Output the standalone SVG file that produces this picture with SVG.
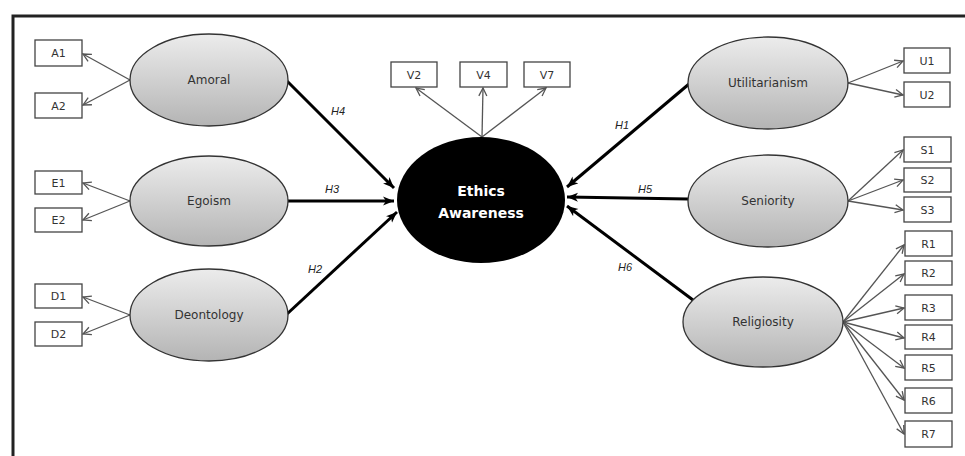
<svg xmlns="http://www.w3.org/2000/svg" width="965" height="456" viewBox="0 0 965 456">
<style>
.box{fill:#fff;stroke:#444;stroke-width:1.3}
.bt{font-family:"DejaVu Sans",sans-serif;font-size:11px;fill:#333;text-anchor:middle}
.lat{fill:url(#g);stroke:#333;stroke-width:1.3}
.lt{font-family:"DejaVu Sans",sans-serif;font-size:12px;fill:#333;text-anchor:middle}
.ind{stroke:#555;stroke-width:1.3;fill:none;marker-end:url(#oa)}
.hyp{stroke:#000;stroke-width:3;fill:none;marker-end:url(#fa)}
.hl{font-family:"Liberation Sans",Arial,sans-serif;font-size:11px;font-style:italic;fill:#222;text-anchor:middle}
</style>
<defs>
<linearGradient id="g" x1="0" y1="0" x2="0" y2="1">
<stop offset="0" stop-color="#ececec"/>
<stop offset="1" stop-color="#b4b4b4"/>
</linearGradient>
<marker id="oa" markerWidth="10" markerHeight="10" refX="9" refY="5" orient="auto" markerUnits="userSpaceOnUse">
<path d="M1,1 L9,5 L1,9" fill="none" stroke="#555" stroke-width="1.3"/>
</marker>
<marker id="fa" markerWidth="12" markerHeight="10" refX="11" refY="5" orient="auto" markerUnits="userSpaceOnUse">
<path d="M0,0.5 L11,5 L0,9.5 L3,5 Z" fill="#000"/>
</marker>
</defs>
<rect width="965" height="456" fill="#fff"/>
<path d="M13,456 V16 H965" fill="none" stroke="#222" stroke-width="3"/>

<g id="connectors">
<line class="ind" x1="130" y1="80" x2="83" y2="54"/>
<line class="ind" x1="130" y1="80" x2="83" y2="105"/>
<line class="ind" x1="130" y1="201" x2="83" y2="183"/>
<line class="ind" x1="130" y1="201" x2="83" y2="220"/>
<line class="ind" x1="130" y1="315" x2="83" y2="297"/>
<line class="ind" x1="130" y1="315" x2="83" y2="334"/>
<line class="ind" x1="482" y1="137" x2="416" y2="88"/>
<line class="ind" x1="482" y1="137" x2="483" y2="88"/>
<line class="ind" x1="482" y1="137" x2="546" y2="88"/>
<line class="ind" x1="848" y1="83" x2="903" y2="61"/>
<line class="ind" x1="848" y1="83" x2="903" y2="95"/>
<line class="ind" x1="848" y1="201" x2="903" y2="150"/>
<line class="ind" x1="848" y1="201" x2="903" y2="180"/>
<line class="ind" x1="848" y1="201" x2="903" y2="210"/>
<line class="ind" x1="843" y1="322" x2="904" y2="245"/>
<line class="ind" x1="843" y1="322" x2="904" y2="274"/>
<line class="ind" x1="843" y1="322" x2="904" y2="308"/>
<line class="ind" x1="843" y1="322" x2="904" y2="338"/>
<line class="ind" x1="843" y1="322" x2="904" y2="368"/>
<line class="ind" x1="843" y1="322" x2="904" y2="400"/>
<line class="ind" x1="843" y1="322" x2="904" y2="434"/>
<line class="hyp" x1="287" y1="81" x2="394" y2="188"/>
<line class="hyp" x1="288" y1="201" x2="394" y2="201"/>
<line class="hyp" x1="287" y1="314" x2="397" y2="212"/>
<line class="hyp" x1="689" y1="84" x2="567" y2="187"/>
<line class="hyp" x1="688" y1="199" x2="567" y2="197"/>
<line class="hyp" x1="693" y1="300" x2="567" y2="206"/>
<text class="hl" x="338" y="115">H4</text>
<text class="hl" x="332" y="193">H3</text>
<text class="hl" x="315" y="273">H2</text>
<text class="hl" x="622" y="129">H1</text>
<text class="hl" x="645" y="193">H5</text>
<text class="hl" x="625" y="271">H6</text>
</g>

<g id="A1"><rect class="box" x="35" y="40" width="47" height="26"/><text class="bt" x="58.5" y="57">A1</text></g>
<g id="A2"><rect class="box" x="35" y="93" width="47" height="25"/><text class="bt" x="58.5" y="109.5">A2</text></g>
<g id="E1"><rect class="box" x="35" y="171" width="47" height="23"/><text class="bt" x="58.5" y="186.5">E1</text></g>
<g id="E2"><rect class="box" x="35" y="208" width="47" height="24"/><text class="bt" x="58.5" y="224">E2</text></g>
<g id="D1"><rect class="box" x="35" y="284" width="47" height="24"/><text class="bt" x="58.5" y="300">D1</text></g>
<g id="D2"><rect class="box" x="35" y="322" width="47" height="24"/><text class="bt" x="58.5" y="338">D2</text></g>

<g id="Amoral"><ellipse class="lat" cx="209" cy="80" rx="79" ry="46"/><text class="lt" x="209" y="84">Amoral</text></g>
<g id="Egoism"><ellipse class="lat" cx="209" cy="201" rx="79" ry="45"/><text class="lt" x="209" y="205">Egoism</text></g>
<g id="Deontology"><ellipse class="lat" cx="209" cy="315" rx="79" ry="46"/><text class="lt" x="209" y="319">Deontology</text></g>

<g id="V2"><rect class="box" x="391" y="62" width="46" height="25"/><text class="bt" x="414" y="78.5">V2</text></g>
<g id="V4"><rect class="box" x="460" y="62" width="47" height="25"/><text class="bt" x="483.5" y="78.5">V4</text></g>
<g id="V7"><rect class="box" x="524" y="62" width="46" height="25"/><text class="bt" x="547" y="78.5">V7</text></g>

<g id="EthicsAwareness"><ellipse cx="481" cy="200" rx="84" ry="63" fill="#000"/>
<text x="481" y="196" font-family="'DejaVu Sans',sans-serif" font-size="14" font-weight="bold" fill="#fff" text-anchor="middle">Ethics</text>
<text x="481" y="218" font-family="'DejaVu Sans',sans-serif" font-size="14" font-weight="bold" fill="#fff" text-anchor="middle">Awareness</text></g>

<g id="Utilitarianism"><ellipse class="lat" cx="768" cy="83" rx="80" ry="46"/><text class="lt" x="768" y="87">Utilitarianism</text></g>
<g id="Seniority"><ellipse class="lat" cx="768" cy="201" rx="80" ry="46"/><text class="lt" x="768" y="205">Seniority</text></g>
<g id="Religiosity"><ellipse class="lat" cx="763" cy="322" rx="80" ry="45"/><text class="lt" x="763" y="326">Religiosity</text></g>

<g id="U1"><rect class="box" x="904" y="48" width="46" height="25"/><text class="bt" x="927" y="64.5">U1</text></g>
<g id="U2"><rect class="box" x="904" y="82" width="46" height="25"/><text class="bt" x="927" y="98.5">U2</text></g>
<g id="S1"><rect class="box" x="904" y="137" width="47" height="25"/><text class="bt" x="927.5" y="153.5">S1</text></g>
<g id="S2"><rect class="box" x="904" y="168" width="47" height="24"/><text class="bt" x="927.5" y="184">S2</text></g>
<g id="S3"><rect class="box" x="904" y="197" width="47" height="25"/><text class="bt" x="927.5" y="213.5">S3</text></g>
<g id="R1"><rect class="box" x="905" y="231" width="47" height="25"/><text class="bt" x="928.5" y="247.5">R1</text></g>
<g id="R2"><rect class="box" x="905" y="261" width="47" height="24"/><text class="bt" x="928.5" y="277">R2</text></g>
<g id="R3"><rect class="box" x="905" y="295" width="47" height="25"/><text class="bt" x="928.5" y="311.5">R3</text></g>
<g id="R4"><rect class="box" x="905" y="325" width="47" height="24"/><text class="bt" x="928.5" y="341">R4</text></g>
<g id="R5"><rect class="box" x="905" y="355" width="47" height="25"/><text class="bt" x="928.5" y="371.5">R5</text></g>
<g id="R6"><rect class="box" x="905" y="388" width="47" height="25"/><text class="bt" x="928.5" y="404.5">R6</text></g>
<g id="R7"><rect class="box" x="905" y="421" width="47" height="26"/><text class="bt" x="928.5" y="438">R7</text></g>
</svg>
